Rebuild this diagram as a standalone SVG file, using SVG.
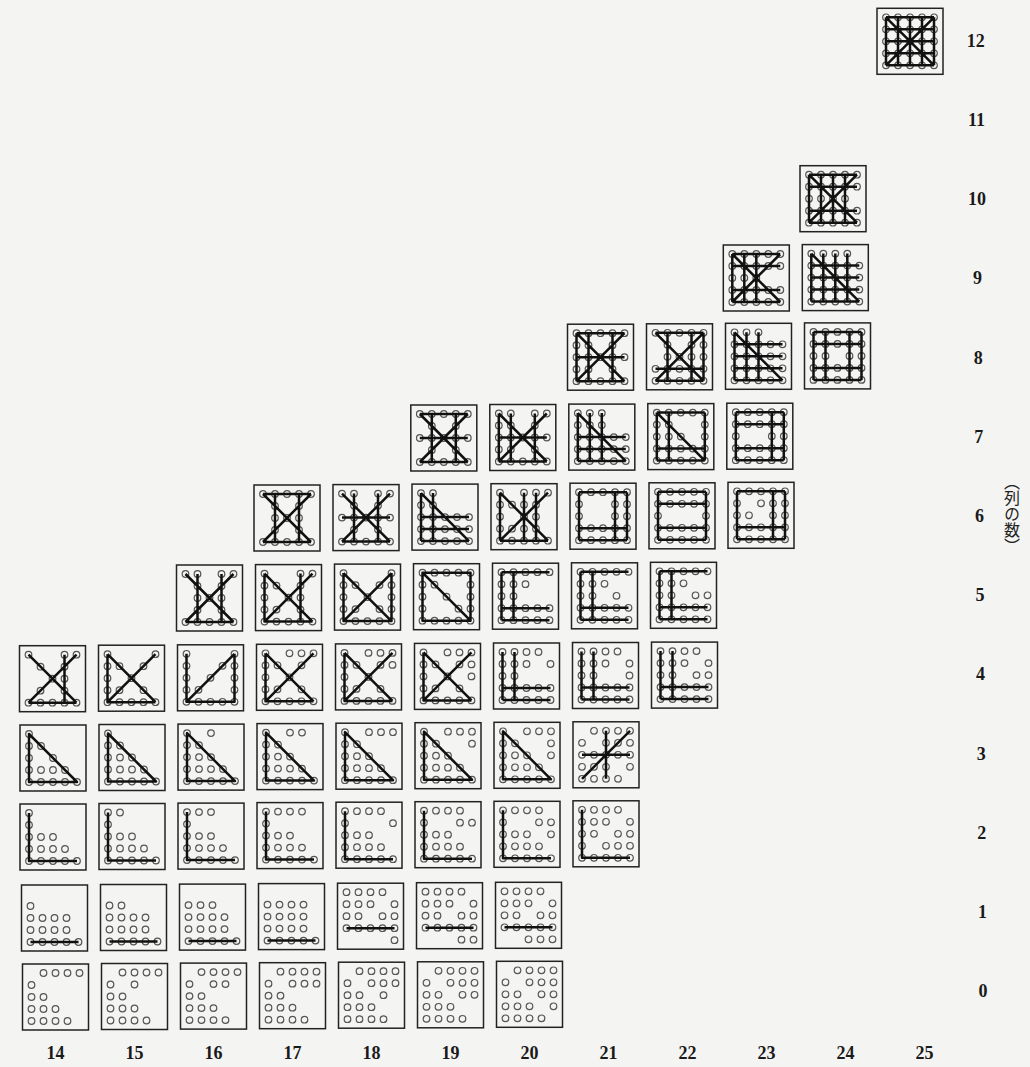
<svg xmlns="http://www.w3.org/2000/svg" xmlns:xlink="http://www.w3.org/1999/xlink" width="1030" height="1067" viewBox="0 0 1030 1067">
<style>
circle{fill:none;stroke:#555;stroke-width:1.2}
.b rect{fill:none;stroke:#222;stroke-width:1.5}
.b path{fill:none;stroke:#111;stroke-width:2.5;stroke-linejoin:round}
.t{font-family:"Liberation Serif",serif;font-size:18px;font-weight:bold;fill:#1a1a1a;text-anchor:middle}
.v{font-family:"Noto Sans CJK JP",sans-serif;font-size:16px;fill:#222;writing-mode:vertical-rl}
</style>
<defs>
<g id="p01111"><circle cx="21" r="3.3"/><circle cx="33" r="3.3"/><circle cx="45" r="3.3"/><circle cx="57" r="3.3"/></g>
<g id="p10000"><circle cx="9" r="3.3"/></g>
<g id="p11000"><circle cx="9" r="3.3"/><circle cx="21" r="3.3"/></g>
<g id="p11100"><circle cx="9" r="3.3"/><circle cx="21" r="3.3"/><circle cx="33" r="3.3"/></g>
<g id="p11110"><circle cx="9" r="3.3"/><circle cx="21" r="3.3"/><circle cx="33" r="3.3"/><circle cx="45" r="3.3"/></g>
<g id="p11111"><circle cx="9" r="3.3"/><circle cx="21" r="3.3"/><circle cx="33" r="3.3"/><circle cx="45" r="3.3"/><circle cx="57" r="3.3"/></g>
<g id="p10100"><circle cx="9" r="3.3"/><circle cx="33" r="3.3"/></g>
<g id="p10110"><circle cx="9" r="3.3"/><circle cx="33" r="3.3"/><circle cx="45" r="3.3"/></g>
<g id="p10111"><circle cx="9" r="3.3"/><circle cx="33" r="3.3"/><circle cx="45" r="3.3"/><circle cx="57" r="3.3"/></g>
<g id="p11010"><circle cx="9" r="3.3"/><circle cx="21" r="3.3"/><circle cx="45" r="3.3"/></g>
<g id="p11011"><circle cx="9" r="3.3"/><circle cx="21" r="3.3"/><circle cx="45" r="3.3"/><circle cx="57" r="3.3"/></g>
<g id="p11101"><circle cx="9" r="3.3"/><circle cx="21" r="3.3"/><circle cx="33" r="3.3"/><circle cx="57" r="3.3"/></g>
<g id="p00001"><circle cx="57" r="3.3"/></g>
<g id="p00011"><circle cx="45" r="3.3"/><circle cx="57" r="3.3"/></g>
<g id="p00111"><circle cx="33" r="3.3"/><circle cx="45" r="3.3"/><circle cx="57" r="3.3"/></g>
<g id="p10001"><circle cx="9" r="3.3"/><circle cx="57" r="3.3"/></g>
<g id="p10011"><circle cx="9" r="3.3"/><circle cx="45" r="3.3"/><circle cx="57" r="3.3"/></g>
<g id="p11001"><circle cx="9" r="3.3"/><circle cx="21" r="3.3"/><circle cx="57" r="3.3"/></g>
<g id="p01010"><circle cx="21" r="3.3"/><circle cx="45" r="3.3"/></g>
<g id="p00110"><circle cx="33" r="3.3"/><circle cx="45" r="3.3"/></g>
<g id="p01110"><circle cx="21" r="3.3"/><circle cx="33" r="3.3"/><circle cx="45" r="3.3"/></g>
<g id="p10101"><circle cx="9" r="3.3"/><circle cx="33" r="3.3"/><circle cx="57" r="3.3"/></g>
<g id="p01011"><circle cx="21" r="3.3"/><circle cx="45" r="3.3"/><circle cx="57" r="3.3"/></g>
</defs>
<rect width="1030" height="1067" fill="#f4f4f2"/>

<g id="row0">
<g id="n14-0" class="b" transform="translate(22.5 964)"><rect width="66" height="66"/><use href="#p01111" y="9"/><use href="#p10000" y="21"/><use href="#p11000" y="33"/><use href="#p11100" y="45"/><use href="#p11110" y="57"/></g>
<g id="n15-0" class="b" transform="translate(101.5 963.5)"><rect width="66" height="66"/><use href="#p01111" y="9"/><use href="#p10100" y="21"/><use href="#p11000" y="33"/><use href="#p11100" y="45"/><use href="#p11110" y="57"/></g>
<g id="n16-0" class="b" transform="translate(180.5 963.1)"><rect width="66" height="66"/><use href="#p01111" y="9"/><use href="#p10110" y="21"/><use href="#p11000" y="33"/><use href="#p11100" y="45"/><use href="#p11110" y="57"/></g>
<g id="n17-0" class="b" transform="translate(259.5 962.7)"><rect width="66" height="66"/><use href="#p01111" y="9"/><use href="#p10111" y="21"/><use href="#p11000" y="33"/><use href="#p11100" y="45"/><use href="#p11110" y="57"/></g>
<g id="n18-0" class="b" transform="translate(338.5 962.2)"><rect width="66" height="66"/><use href="#p01111" y="9"/><use href="#p10111" y="21"/><use href="#p11010" y="33"/><use href="#p11100" y="45"/><use href="#p11110" y="57"/></g>
<g id="n19-0" class="b" transform="translate(417.5 961.8)"><rect width="66" height="66"/><use href="#p01111" y="9"/><use href="#p10111" y="21"/><use href="#p11011" y="33"/><use href="#p11100" y="45"/><use href="#p11110" y="57"/></g>
<g id="n20-0" class="b" transform="translate(496.5 961.3)"><rect width="66" height="66"/><use href="#p01111" y="9"/><use href="#p10111" y="21"/><use href="#p11011" y="33"/><use href="#p11101" y="45"/><use href="#p11110" y="57"/></g>
</g>

<g id="row1">
<g id="n14-1" class="b" transform="translate(21.5 885)"><rect width="66" height="66"/><use href="#p10000" y="21"/><use href="#p11110" y="33"/><use href="#p11110" y="45"/><use href="#p11111" y="57"/><path d="M9 57H57"/></g>
<g id="n15-1" class="b" transform="translate(100.5 884.5)"><rect width="66" height="66"/><use href="#p11000" y="21"/><use href="#p11110" y="33"/><use href="#p11110" y="45"/><use href="#p11111" y="57"/><path d="M9 57H57"/></g>
<g id="n16-1" class="b" transform="translate(179.5 884.1)"><rect width="66" height="66"/><use href="#p11100" y="21"/><use href="#p11110" y="33"/><use href="#p11110" y="45"/><use href="#p11111" y="57"/><path d="M9 57H57"/></g>
<g id="n17-1" class="b" transform="translate(258.5 883.6)"><rect width="66" height="66"/><use href="#p11110" y="21"/><use href="#p11110" y="33"/><use href="#p11110" y="45"/><use href="#p11111" y="57"/><path d="M9 57H57"/></g>
<g id="n18-1" class="b" transform="translate(337.5 883.2)"><rect width="66" height="66"/><use href="#p11110" y="9"/><use href="#p11101" y="21"/><use href="#p11011" y="33"/><use href="#p11111" y="45"/><use href="#p00001" y="57"/><path d="M9 45H57"/></g>
<g id="n19-1" class="b" transform="translate(416.5 882.7)"><rect width="66" height="66"/><use href="#p11110" y="9"/><use href="#p11101" y="21"/><use href="#p11011" y="33"/><use href="#p11111" y="45"/><use href="#p00011" y="57"/><path d="M9 45H57"/></g>
<g id="n20-1" class="b" transform="translate(495.5 882.3)"><rect width="66" height="66"/><use href="#p11110" y="9"/><use href="#p11101" y="21"/><use href="#p11011" y="33"/><use href="#p11111" y="45"/><use href="#p00111" y="57"/><path d="M9 45H57"/></g>
</g>

<g id="row2">
<g id="n14-2" class="b" transform="translate(20 804)"><rect width="66" height="66"/><use href="#p10000" y="9"/><use href="#p10000" y="21"/><use href="#p11100" y="33"/><use href="#p11110" y="45"/><use href="#p11111" y="57"/><path d="M9 9V57H57"/></g>
<g id="n15-2" class="b" transform="translate(99 803.5)"><rect width="66" height="66"/><use href="#p11000" y="9"/><use href="#p10000" y="21"/><use href="#p11100" y="33"/><use href="#p11110" y="45"/><use href="#p11111" y="57"/><path d="M9 9V57H57"/></g>
<g id="n16-2" class="b" transform="translate(178 803.1)"><rect width="66" height="66"/><use href="#p11100" y="9"/><use href="#p10000" y="21"/><use href="#p11100" y="33"/><use href="#p11110" y="45"/><use href="#p11111" y="57"/><path d="M9 9V57H57"/></g>
<g id="n17-2" class="b" transform="translate(257 802.6)"><rect width="66" height="66"/><use href="#p11110" y="9"/><use href="#p10000" y="21"/><use href="#p11100" y="33"/><use href="#p11110" y="45"/><use href="#p11111" y="57"/><path d="M9 9V57H57"/></g>
<g id="n18-2" class="b" transform="translate(336 802.2)"><rect width="66" height="66"/><use href="#p11110" y="9"/><use href="#p10001" y="21"/><use href="#p11100" y="33"/><use href="#p11110" y="45"/><use href="#p11111" y="57"/><path d="M9 9V57H57"/></g>
<g id="n19-2" class="b" transform="translate(415 801.7)"><rect width="66" height="66"/><use href="#p11110" y="9"/><use href="#p10011" y="21"/><use href="#p11100" y="33"/><use href="#p11110" y="45"/><use href="#p11111" y="57"/><path d="M9 9V57H57"/></g>
<g id="n20-2" class="b" transform="translate(494 801.3)"><rect width="66" height="66"/><use href="#p11110" y="9"/><use href="#p10011" y="21"/><use href="#p11101" y="33"/><use href="#p11110" y="45"/><use href="#p11111" y="57"/><path d="M9 9V57H57"/></g>
<g id="n21-2" class="b" transform="translate(573 800.8)"><rect width="66" height="66"/><use href="#p11110" y="9"/><use href="#p11101" y="21"/><use href="#p11011" y="33"/><use href="#p10111" y="45"/><use href="#p11111" y="57"/><path d="M9 9V57H57"/></g>
</g>

<g id="row3">
<g id="n14-3" class="b" transform="translate(20 725)"><rect width="66" height="66"/><use href="#p10000" y="9"/><use href="#p11000" y="21"/><use href="#p10100" y="33"/><use href="#p11110" y="45"/><use href="#p11111" y="57"/><path d="M9 9V57H57Z"/></g>
<g id="n15-3" class="b" transform="translate(99 724.5)"><rect width="66" height="66"/><use href="#p10000" y="9"/><use href="#p11000" y="21"/><use href="#p11100" y="33"/><use href="#p11110" y="45"/><use href="#p11111" y="57"/><path d="M9 9V57H57Z"/></g>
<g id="n16-3" class="b" transform="translate(178 724.1)"><rect width="66" height="66"/><use href="#p10100" y="9"/><use href="#p11000" y="21"/><use href="#p11100" y="33"/><use href="#p11110" y="45"/><use href="#p11111" y="57"/><path d="M9 9V57H57Z"/></g>
<g id="n17-3" class="b" transform="translate(257 723.6)"><rect width="66" height="66"/><use href="#p10110" y="9"/><use href="#p11000" y="21"/><use href="#p11100" y="33"/><use href="#p11110" y="45"/><use href="#p11111" y="57"/><path d="M9 9V57H57Z"/></g>
<g id="n18-3" class="b" transform="translate(336 723.2)"><rect width="66" height="66"/><use href="#p10111" y="9"/><use href="#p11000" y="21"/><use href="#p11100" y="33"/><use href="#p11110" y="45"/><use href="#p11111" y="57"/><path d="M9 9V57H57Z"/></g>
<g id="n19-3" class="b" transform="translate(415 722.7)"><rect width="66" height="66"/><use href="#p10111" y="9"/><use href="#p11001" y="21"/><use href="#p11100" y="33"/><use href="#p11110" y="45"/><use href="#p11111" y="57"/><path d="M9 9V57H57Z"/></g>
<g id="n20-3" class="b" transform="translate(494 722.3)"><rect width="66" height="66"/><use href="#p10111" y="9"/><use href="#p11001" y="21"/><use href="#p11101" y="33"/><use href="#p11110" y="45"/><use href="#p11111" y="57"/><path d="M9 9V57H57Z"/></g>
<g id="n21-3" class="b" transform="translate(573 721.8)"><rect width="66" height="66"/><use href="#p01111" y="9"/><use href="#p10111" y="21"/><use href="#p11111" y="33"/><use href="#p11101" y="45"/><use href="#p11110" y="57"/><path d="M33 9V57M9 33H57M9 57L57 9"/></g>
</g>

<g id="row4">
<g id="n14-4" class="b" transform="translate(19.5 645.7)"><rect width="66" height="66"/><use href="#p10011" y="9"/><use href="#p01010" y="21"/><use href="#p00110" y="33"/><use href="#p01010" y="45"/><use href="#p11111" y="57"/><path d="M9 9L57 57M57 9L9 57M45 9V57M9 57H57"/></g>
<g id="n15-4" class="b" transform="translate(98.5 645.2)"><rect width="66" height="66"/><use href="#p10001" y="9"/><use href="#p11010" y="21"/><use href="#p10100" y="33"/><use href="#p11010" y="45"/><use href="#p11111" y="57"/><path d="M9 9V57H57M9 9L57 57M57 9L9 57"/></g>
<g id="n16-4" class="b" transform="translate(177.5 644.8)"><rect width="66" height="66"/><use href="#p10001" y="9"/><use href="#p10011" y="21"/><use href="#p10101" y="33"/><use href="#p11001" y="45"/><use href="#p11111" y="57"/><path d="M9 9V57H57V9M9 57L57 9"/></g>
<g id="n17-4" class="b" transform="translate(256.5 644.3)"><rect width="66" height="66"/><use href="#p10111" y="9"/><use href="#p11010" y="21"/><use href="#p10100" y="33"/><use href="#p11010" y="45"/><use href="#p11111" y="57"/><path d="M9 9V57H57M9 9L57 57M57 9L9 57"/></g>
<g id="n18-4" class="b" transform="translate(335.5 643.9)"><rect width="66" height="66"/><use href="#p10111" y="9"/><use href="#p11011" y="21"/><use href="#p10100" y="33"/><use href="#p11010" y="45"/><use href="#p11111" y="57"/><path d="M9 9V57H57M9 9L57 57M57 9L9 57"/></g>
<g id="n19-4" class="b" transform="translate(414.5 643.4)"><rect width="66" height="66"/><use href="#p10111" y="9"/><use href="#p11011" y="21"/><use href="#p10101" y="33"/><use href="#p11010" y="45"/><use href="#p11111" y="57"/><path d="M9 9V57H57M9 9L57 57M57 9L9 57"/></g>
<g id="n20-4" class="b" transform="translate(493.5 643)"><rect width="66" height="66"/><use href="#p11110" y="9"/><use href="#p11101" y="21"/><use href="#p11000" y="33"/><use href="#p11111" y="45"/><use href="#p11111" y="57"/><path d="M9 9V57M21 9V57M9 45H57M9 57H57"/></g>
<g id="n21-4" class="b" transform="translate(572.5 642.5)"><rect width="66" height="66"/><use href="#p11110" y="9"/><use href="#p11101" y="21"/><use href="#p11001" y="33"/><use href="#p11111" y="45"/><use href="#p11111" y="57"/><path d="M9 9V57M21 9V57M9 45H57M9 57H57"/></g>
<g id="n22-4" class="b" transform="translate(651.5 642.1)"><rect width="66" height="66"/><use href="#p11110" y="9"/><use href="#p11101" y="21"/><use href="#p11011" y="33"/><use href="#p11111" y="45"/><use href="#p11111" y="57"/><path d="M9 9V57M21 9V57M9 45H57M9 57H57"/></g>
</g>

<g id="row5">
<g id="n16-5" class="b" transform="translate(176.5 565)"><rect width="66" height="66"/><use href="#p11011" y="9"/><use href="#p01010" y="21"/><use href="#p01110" y="33"/><use href="#p01010" y="45"/><use href="#p11111" y="57"/><path d="M21 9V57M45 9V57M9 9L57 57M57 9L9 57M9 57H57"/></g>
<g id="n17-5" class="b" transform="translate(255.5 564.6)"><rect width="66" height="66"/><use href="#p10011" y="9"/><use href="#p11010" y="21"/><use href="#p10110" y="33"/><use href="#p11010" y="45"/><use href="#p11111" y="57"/><path d="M9 9V57H57M45 9V57M9 9L57 57M57 9L9 57"/></g>
<g id="n18-5" class="b" transform="translate(334.5 564.1)"><rect width="66" height="66"/><use href="#p10001" y="9"/><use href="#p11011" y="21"/><use href="#p10101" y="33"/><use href="#p11011" y="45"/><use href="#p11111" y="57"/><path d="M9 9V57H57V9M9 9L57 57M57 9L9 57"/></g>
<g id="n19-5" class="b" transform="translate(413.5 563.7)"><rect width="66" height="66"/><use href="#p11111" y="9"/><use href="#p11001" y="21"/><use href="#p10101" y="33"/><use href="#p10011" y="45"/><use href="#p11111" y="57"/><path d="M9 9H57V57H9ZM9 9L57 57"/></g>
<g id="n20-5" class="b" transform="translate(492.5 563.2)"><rect width="66" height="66"/><use href="#p11111" y="9"/><use href="#p11100" y="21"/><use href="#p11000" y="33"/><use href="#p11111" y="45"/><use href="#p11111" y="57"/><path d="M9 9H57M9 9V57M21 9V57M9 45H57M9 57H57"/></g>
<g id="n21-5" class="b" transform="translate(571.5 562.8)"><rect width="66" height="66"/><use href="#p11111" y="9"/><use href="#p11100" y="21"/><use href="#p11010" y="33"/><use href="#p11111" y="45"/><use href="#p11111" y="57"/><path d="M9 9H57M9 9V57M21 9V57M9 45H57M9 57H57"/></g>
<g id="n22-5" class="b" transform="translate(650.5 562.3)"><rect width="66" height="66"/><use href="#p11111" y="9"/><use href="#p11100" y="21"/><use href="#p11011" y="33"/><use href="#p11111" y="45"/><use href="#p11111" y="57"/><path d="M9 9H57M9 9V57M21 9V57M9 45H57M9 57H57"/></g>
</g>

<g id="row6">
<g id="n17-6" class="b" transform="translate(254 485)"><rect width="66" height="66"/><use href="#p11111" y="9"/><use href="#p01010" y="21"/><use href="#p01110" y="33"/><use href="#p01010" y="45"/><use href="#p11111" y="57"/><path d="M9 9H57M9 57H57M21 9V57M45 9V57M9 9L57 57M57 9L9 57"/></g>
<g id="n18-6" class="b" transform="translate(333 484.6)"><rect width="66" height="66"/><use href="#p11011" y="9"/><use href="#p01010" y="21"/><use href="#p11111" y="33"/><use href="#p01010" y="45"/><use href="#p11111" y="57"/><path d="M21 9V57M45 9V57M9 9L57 57M57 9L9 57M9 33H57M9 57H57"/></g>
<g id="n19-6" class="b" transform="translate(412 484.1)"><rect width="66" height="66"/><use href="#p11000" y="9"/><use href="#p11000" y="21"/><use href="#p11111" y="33"/><use href="#p11111" y="45"/><use href="#p11111" y="57"/><path d="M9 9V57M21 9V57M9 9L57 57M9 33H57M9 45H57M9 57H57"/></g>
<g id="n20-6" class="b" transform="translate(491 483.7)"><rect width="66" height="66"/><use href="#p10111" y="9"/><use href="#p11110" y="21"/><use href="#p10110" y="33"/><use href="#p11110" y="45"/><use href="#p11111" y="57"/><path d="M9 9V57M33 9V57M45 9V57M9 9L57 57M57 9L9 57M9 57H57"/></g>
<g id="n21-6" class="b" transform="translate(570 483.2)"><rect width="66" height="66"/><use href="#p11111" y="9"/><use href="#p10011" y="21"/><use href="#p10011" y="33"/><use href="#p11111" y="45"/><use href="#p11111" y="57"/><path d="M9 9H57M9 45H57M9 57H57M9 9V57M45 9V57M57 9V57"/></g>
<g id="n22-6" class="b" transform="translate(649 482.8)"><rect width="66" height="66"/><use href="#p11111" y="9"/><use href="#p11111" y="21"/><use href="#p10001" y="33"/><use href="#p11111" y="45"/><use href="#p11111" y="57"/><path d="M9 9H57M9 21H57M9 45H57M9 57H57M9 9V57M57 9V57"/></g>
<g id="n23-6" class="b" transform="translate(728 482.3)"><rect width="66" height="66"/><use href="#p11111" y="9"/><use href="#p10111" y="21"/><use href="#p11011" y="33"/><use href="#p11111" y="45"/><use href="#p11111" y="57"/><path d="M9 9H57M9 45H57M9 57H57M9 9V57M45 9V57M57 9V57"/></g>
</g>

<g id="row7">
<g id="n19-7" class="b" transform="translate(410.8 405)"><rect width="66" height="66"/><use href="#p11111" y="9"/><use href="#p01010" y="21"/><use href="#p11111" y="33"/><use href="#p01010" y="45"/><use href="#p11111" y="57"/><path d="M9 9H57M9 33H57M9 57H57M21 9V57M45 9V57M9 9L57 57M57 9L9 57"/></g>
<g id="n20-7" class="b" transform="translate(489.8 404.5)"><rect width="66" height="66"/><use href="#p11011" y="9"/><use href="#p11010" y="21"/><use href="#p11111" y="33"/><use href="#p11010" y="45"/><use href="#p11111" y="57"/><path d="M9 9V57M21 9V57M45 9V57M9 9L57 57M57 9L9 57M9 33H57M9 57H57"/></g>
<g id="n21-7" class="b" transform="translate(568.8 404.1)"><rect width="66" height="66"/><use href="#p11100" y="9"/><use href="#p11100" y="21"/><use href="#p11111" y="33"/><use href="#p11111" y="45"/><use href="#p11111" y="57"/><path d="M9 9V57M21 9V57M33 9V57M9 9L57 57M9 33H57M9 45H57M9 57H57"/></g>
<g id="n22-7" class="b" transform="translate(647.8 403.6)"><rect width="66" height="66"/><use href="#p11111" y="9"/><use href="#p11001" y="21"/><use href="#p11101" y="33"/><use href="#p11111" y="45"/><use href="#p11111" y="57"/><path d="M9 9H57M9 45H57M9 57H57M9 9V57M21 9V57M57 9V57M9 9L57 57"/></g>
<g id="n23-7" class="b" transform="translate(726.8 403.2)"><rect width="66" height="66"/><use href="#p11111" y="9"/><use href="#p11111" y="21"/><use href="#p10011" y="33"/><use href="#p11111" y="45"/><use href="#p11111" y="57"/><path d="M9 9H57M9 21H57M9 45H57M9 57H57M9 9V57M45 9V57M57 9V57"/></g>
</g>

<g id="row8">
<g id="n21-8" class="b" transform="translate(567.5 324.2)"><rect width="66" height="66"/><use href="#p11111" y="9"/><use href="#p11010" y="21"/><use href="#p11111" y="33"/><use href="#p11010" y="45"/><use href="#p11111" y="57"/><path d="M9 9H57M9 33H57M9 57H57M9 9V57M21 9V57M45 9V57M9 9L57 57M57 9L9 57"/></g>
<g id="n22-8" class="b" transform="translate(646.5 323.8)"><rect width="66" height="66"/><use href="#p11111" y="9"/><use href="#p01011" y="21"/><use href="#p01111" y="33"/><use href="#p11111" y="45"/><use href="#p11111" y="57"/><path d="M9 9H57M9 45H57M9 57H57M21 9V57M45 9V57M57 9V57M9 9L57 57M57 9L9 57"/></g>
<g id="n23-8" class="b" transform="translate(725.5 323.3)"><rect width="66" height="66"/><use href="#p11100" y="9"/><use href="#p11111" y="21"/><use href="#p11111" y="33"/><use href="#p11111" y="45"/><use href="#p11111" y="57"/><path d="M9 9V57M21 9V57M33 9V57M9 9L57 57M9 21H57M9 33H57M9 45H57M9 57H57"/></g>
<g id="n24-8" class="b" transform="translate(804.5 322.9)"><rect width="66" height="66"/><use href="#p11111" y="9"/><use href="#p11111" y="21"/><use href="#p11011" y="33"/><use href="#p11111" y="45"/><use href="#p11111" y="57"/><path d="M9 9H57M9 21H57M9 45H57M9 57H57M9 9V57M21 9V57M45 9V57M57 9V57"/></g>
</g>

<g id="row9">
<g id="n23-9" class="b" transform="translate(723.3 245)"><rect width="66" height="66"/><use href="#p11111" y="9"/><use href="#p11111" y="21"/><use href="#p11100" y="33"/><use href="#p11111" y="45"/><use href="#p11111" y="57"/><path d="M9 9H57M9 21H57M9 45H57M9 57H57M9 9V57M21 9V57M33 9V57M9 9L57 57M57 9L9 57"/></g>
<g id="n24-9" class="b" transform="translate(802.3 244.6)"><rect width="66" height="66"/><use href="#p11110" y="9"/><use href="#p11111" y="21"/><use href="#p11111" y="33"/><use href="#p11111" y="45"/><use href="#p11111" y="57"/><path d="M9 21H57M9 33H57M9 45H57M9 57H57M9 9V57M21 9V57M33 9V57M45 9V57M9 9L57 57"/></g>
</g>

<g id="row10">
<g id="n24-10" class="b" transform="translate(800 165.7)"><rect width="66" height="66"/><use href="#p11111" y="9"/><use href="#p11111" y="21"/><use href="#p11110" y="33"/><use href="#p11111" y="45"/><use href="#p11111" y="57"/><path d="M9 9H57M9 21H57M9 45H57M9 57H57M9 9V57M21 9V57M33 9V57M45 9V57M9 9L57 57M57 9L9 57"/></g>
</g>

<g id="row12">
<g id="n25-12" class="b" transform="translate(877 8.3)"><rect width="66" height="66"/><use href="#p11111" y="9"/><use href="#p11111" y="21"/><use href="#p11111" y="33"/><use href="#p11111" y="45"/><use href="#p11111" y="57"/><path d="M9 9H57M9 21H57M9 33H57M9 45H57M9 57H57M9 9V57M21 9V57M33 9V57M45 9V57M57 9V57M9 9L57 57M57 9L9 57"/></g>
</g>

<g id="connectors"></g>

<g id="col-labels" class="t">
<text x="55.5" y="1059">14</text>
<text x="134.5" y="1059">15</text>
<text x="213.5" y="1059">16</text>
<text x="292.5" y="1059">17</text>
<text x="371.5" y="1059">18</text>
<text x="450.5" y="1059">19</text>
<text x="529.5" y="1059">20</text>
<text x="608.5" y="1059">21</text>
<text x="687.5" y="1059">22</text>
<text x="766.5" y="1059">23</text>
<text x="845.5" y="1059">24</text>
<text x="924.5" y="1059">25</text>
</g>
<g id="row-labels" class="t">
<text x="975.8" y="47">12</text>
<text x="976.4" y="126">11</text>
<text x="977" y="205">10</text>
<text x="977.6" y="284">9</text>
<text x="978.2" y="363.5">8</text>
<text x="978.8" y="442.5">7</text>
<text x="979.4" y="521.5">6</text>
<text x="980" y="601">5</text>
<text x="980.6" y="680">4</text>
<text x="981.2" y="759.5">3</text>
<text x="981.8" y="838.5">2</text>
<text x="982.4" y="918">1</text>
<text x="983" y="997">0</text>
</g>
<text class="v" x="1012" y="474">（列の数）</text>
</svg>
